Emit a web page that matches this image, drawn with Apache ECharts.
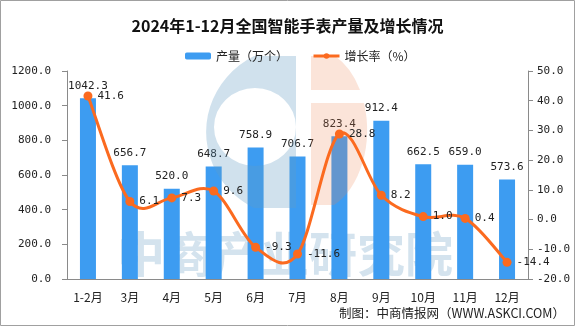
<!DOCTYPE html>
<html><head><meta charset="utf-8">
<script src="https://cdn.jsdelivr.net/npm/echarts@6/dist/echarts.min.js"></script>
<style>html,body{margin:0;padding:0;background:#fff}#c{width:575px;height:326px}</style>
</head><body><div id="c"></div>
<script>
const categories = ['1-2月','3月','4月','5月','6月','7月','8月','9月','10月','11月','12月'];
const output = [1042.3, 656.7, 520.0, 648.7, 758.9, 706.7, 823.4, 912.4, 662.5, 659.0, 573.6];
const growth = [41.6, 6.1, 7.3, 9.6, -9.3, -11.6, 28.8, 8.2, 1.0, 0.4, -14.4];
const leftAxis = { min: 0, max: 1200, interval: 200 };
const rightAxis = { min: -20, max: 50, interval: 10 };
const seriesNames = ['产量（万个）', '增长率（%）'];
const titleText = '2024年1-12月全国智能手表产量及增长情况';
const sourceText = '制图：中商情报网（WWW.ASKCI.COM）';
const watermarkText = '中商产业研究院';

const numFont = 'DejaVu Sans Mono';
const cjk = 'Noto Sans CJK SC';
const axisColor = '#8a8a8a';
const lineColor = '#fb6a1f';

echarts.graphic.registerShape('logoBlue', echarts.graphic.extendPath(
  'M296,56 L254,56 A90,86 0 0,0 254,208 L296,208 Z M214,127 A41,39 0 1,1 296,127 A41,39 0 1,1 214,127 Z', {}));
echarts.graphic.registerShape('logoOrange', echarts.graphic.extendPath(
  'M311,56 L335,56 A56,82 0 0,1 360,90 L311,90 Z M311,103 L364,103 A56,82 0 0,1 334,205 L311,205 Z', {}));

// Smooth (Catmull-Rom style) curve through the growth points, positioned by the chart's own axes
function renderCurve(params, api) {
  if (params.dataIndex !== 0) return null;
  const pts = growth.map((v, i) => api.coord([i, v]));
  const children = [];
  for (let i = 0; i < pts.length - 1; i++) {
    const p0 = pts[i - 1] || pts[i], p1 = pts[i], p2 = pts[i + 1], p3 = pts[i + 2] || pts[i + 1];
    children.push({
      type: 'bezierCurve',
      shape: {
        x1: p1[0], y1: p1[1], x2: p2[0], y2: p2[1],
        cpx1: p1[0] + (p2[0] - p0[0]) / 6, cpy1: p1[1] + (p2[1] - p0[1]) / 6,
        cpx2: p2[0] - (p3[0] - p1[0]) / 6, cpy2: p2[1] - (p3[1] - p1[1]) / 6
      },
      style: { stroke: lineColor, lineWidth: 3, fill: null, lineCap: 'round' }
    });
  }
  return { type: 'group', children };
}

const chart = echarts.init(document.getElementById('c'), null, { renderer: 'canvas' });
chart.setOption({
  animation: false,
  backgroundColor: '#fff',
  title: {
    text: titleText, left: 'center', top: 13,
    textStyle: { fontFamily: cjk, fontSize: 16, fontWeight: 'bold', color: '#111' }
  },
  legend: {
    top: 45, left: 180, itemWidth: 26, itemHeight: 7, itemGap: 24,
    textStyle: { fontFamily: cjk, fontSize: 12, color: '#222' },
    data: [seriesNames[0], { name: seriesNames[1], lineStyle: { opacity: 1, width: 3, color: lineColor } }]
  },
  grid: { left: 67, right: 47, top: 71, bottom: 47 },
  xAxis: {
    type: 'category', data: categories,
    axisLine: { lineStyle: { color: axisColor } },
    axisTick: { length: 5, lineStyle: { color: axisColor } },
    axisLabel: { margin: 12, fontFamily: cjk, fontSize: 12, color: '#222' }
  },
  yAxis: [
    {
      type: 'value', min: leftAxis.min, max: leftAxis.max, interval: leftAxis.interval,
      splitLine: { show: false },
      axisLine: { show: true, lineStyle: { color: axisColor } },
      axisTick: { show: true, length: 5, lineStyle: { color: axisColor } },
      axisLabel: { margin: 16, fontFamily: numFont, fontSize: 11, color: '#222', formatter: v => v.toFixed(1) }
    },
    {
      type: 'value', min: rightAxis.min, max: rightAxis.max, interval: rightAxis.interval,
      splitLine: { show: false },
      axisLine: { show: true, lineStyle: { color: axisColor } },
      axisTick: { show: true, length: 5, lineStyle: { color: axisColor } },
      axisLabel: { margin: 9, fontFamily: numFont, fontSize: 11, color: '#222', formatter: v => v.toFixed(1) }
    }
  ],
  graphic: [
    { type: 'text', z: 0, silent: true, style: { text: watermarkText, x: 117, y: 254, verticalAlign: 'middle',
      font: 'bold 48px "Noto Sans CJK SC"', fill: 'rgba(100,155,195,0.28)' } },
    { type: 'logoBlue', z: 4, silent: true, style: { fill: 'rgba(100,155,195,0.3)' } },
    { type: 'logoOrange', z: 4, silent: true, style: { fill: 'rgba(235,130,80,0.22)' } },
    { type: 'text', z: 10, right: 10, top: 307, style: { text: sourceText,
      font: '12.5px "Noto Sans CJK SC"', fill: '#222' } },
    { type: 'rect', z: 20, silent: true, shape: { x: 0.5, y: 0.5, width: 574, height: 325 },
      style: { fill: 'none', stroke: '#a0a0a0', lineWidth: 1 } }
  ],
  series: [
    {
      name: seriesNames[0], type: 'bar', data: output, barWidth: 16, z: 3,
      itemStyle: { color: '#3d9cf1' },
      label: { show: true, position: 'top', distance: 7, fontFamily: numFont, fontSize: 11, color: '#222',
        formatter: p => p.value.toFixed(1) }
    },
    {
      type: 'custom', yAxisIndex: 1, z: 5, silent: true, clip: false,
      data: growth.map((v, i) => [i, v]),
      renderItem: renderCurve
    },
    {
      name: seriesNames[1], type: 'line', yAxisIndex: 1, data: growth, z: 6,
      symbol: 'circle', symbolSize: 9,
      lineStyle: { color: lineColor, width: 3, opacity: 0 },
      itemStyle: { color: lineColor },
      label: { show: true, position: 'right', distance: 5, fontFamily: numFont, fontSize: 11, color: '#222',
        formatter: p => p.value.toFixed(1) }
    }
  ]
});
</script></body></html>
